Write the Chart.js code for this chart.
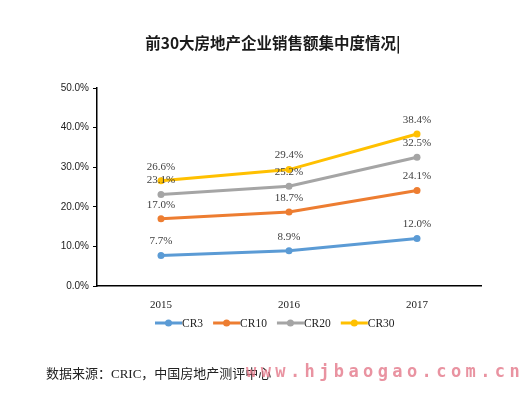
<!DOCTYPE html>
<html>
<head>
<meta charset="utf-8">
<script src="https://cdn.jsdelivr.net/npm/chart.js@4.4.1/dist/chart.umd.min.js"></script>
<style>
  html, body { margin: 0; padding: 0; background: #fff; }
  #wrap { position: relative; width: 524px; height: 396px; }
  #c { position: absolute; left: 0; top: 0; }
  #title {
    position: absolute; left: 0; width: 546px; top: 31px; text-align: center;
    font: bold 15.5px "Noto Sans CJK SC", sans-serif; color: #1a1a1a;
  }
  #src {
    position: absolute; left: 46px; top: 363px;
    font: 13px "Liberation Serif", "Noto Sans CJK SC", serif; color: #222;
  }
  #mark {
    position: absolute; left: 246px; top: 361px;
    font: bold 17px "DejaVu Sans Mono", monospace; letter-spacing: 4.4px;
    color: rgba(228, 120, 138, 0.8);
  }
</style>
</head>
<body>
<div id="wrap">
  <canvas id="c" width="524" height="396"></canvas>
  <div id="title">前30大房地产企业销售额集中度情况|</div>
  <div id="src">数据来源：CRIC，中国房地产测评中心</div>
  <div id="mark">www.hjbaogao.com.cn</div>
</div>
<script>
"use strict";

/* ---------- data ---------- */
const years = ["2015", "2016", "2017"];
const cr3  = [7.7, 8.9, 12.0];
const cr10 = [17.0, 18.7, 24.1];
const cr20 = [23.1, 25.2, 32.5];
const cr30 = [26.6, 29.4, 38.4];
const yTicks = [0, 10, 20, 30, 40, 50];

const seriesNames = ["CR3", "CR10", "CR20", "CR30"];
const seriesColors = ["#5B9BD5", "#ED7D31", "#A5A5A5", "#FFC000"];

/* ---------- plugins ---------- */
// labels above each point
const pointLabels = {
  id: "pointLabels",
  afterDatasetsDraw(chart) {
    const ctx = chart.ctx;
    ctx.save();
    ctx.font = "11px 'Liberation Serif', serif";
    ctx.fillStyle = "#404040";
    ctx.textAlign = "center";
    ctx.textBaseline = "middle";
    chart.data.datasets.forEach((ds, i) => {
      chart.getDatasetMeta(i).data.forEach((pt, j) => {
        ctx.fillText(ds.data[j].toFixed(1) + "%", pt.x, pt.y - 14);
      });
    });
    ctx.restore();
  }
};

// legend drawn by hand under the axis
const bottomLegend = {
  id: "bottomLegend",
  afterDraw(chart) {
    const ctx = chart.ctx;
    ctx.save();
    ctx.font = "11.5px 'Liberation Serif', serif";
    ctx.textBaseline = "middle";
    let x = 155;
    const y = 323;
    chart.data.datasets.forEach(ds => {
      ctx.strokeStyle = ds.borderColor;
      ctx.lineWidth = 3;
      ctx.beginPath();
      ctx.moveTo(x, y);
      ctx.lineTo(x + 27, y);
      ctx.stroke();
      ctx.fillStyle = ds.borderColor;
      ctx.beginPath();
      ctx.arc(x + 13.5, y, 3.5, 0, Math.PI * 2);
      ctx.fill();
      ctx.fillStyle = "#222";
      ctx.textAlign = "left";
      ctx.fillText(ds.label, x + 27, y + 1);
      x += 27 + ctx.measureText(ds.label).width + 10;
    });
    ctx.restore();
  }
};

/* ---------- chart ---------- */
const seriesData = [cr3, cr10, cr20, cr30];

new Chart(document.getElementById("c").getContext("2d"), {
  type: "line",
  data: {
    labels: years,
    datasets: seriesData.map((d, i) => ({
      label: seriesNames[i],
      data: d,
      borderColor: seriesColors[i],
      backgroundColor: seriesColors[i],
      borderWidth: 3,
      pointRadius: 3.5,
      pointBorderWidth: 0,
      tension: 0,
      fill: false
    }))
  },
  options: {
    responsive: false,
    animation: false,
    layout: { padding: { top: 88, left: 0, right: 43, bottom: 86 } },
    plugins: { legend: { display: false }, tooltip: { enabled: false } },
    scales: {
      x: {
        offset: true,
        grid: { display: false },
        border: { display: true, color: "#000", width: 1.5 },
        ticks: { color: "#222", font: { family: "'Liberation Serif', serif", size: 11 }, padding: 5 },
        afterFit: s => { s.height = 24; }
      },
      y: {
        min: 0,
        max: 50,
        afterBuildTicks: s => { s.ticks = yTicks.map(v => ({ value: v })); },
        grid: { display: true, drawOnChartArea: false, drawTicks: true, tickLength: 4, color: "#000" },
        border: { display: true, color: "#000", width: 1.5 },
        ticks: {
          color: "#222",
          font: { family: "'Liberation Sans', sans-serif", size: 10 },
          padding: 4,
          callback: v => v.toFixed(1) + "%"
        },
        afterFit: s => { s.width = 97; }
      }
    }
  },
  plugins: [pointLabels, bottomLegend]
});
</script>
</body>
</html>
